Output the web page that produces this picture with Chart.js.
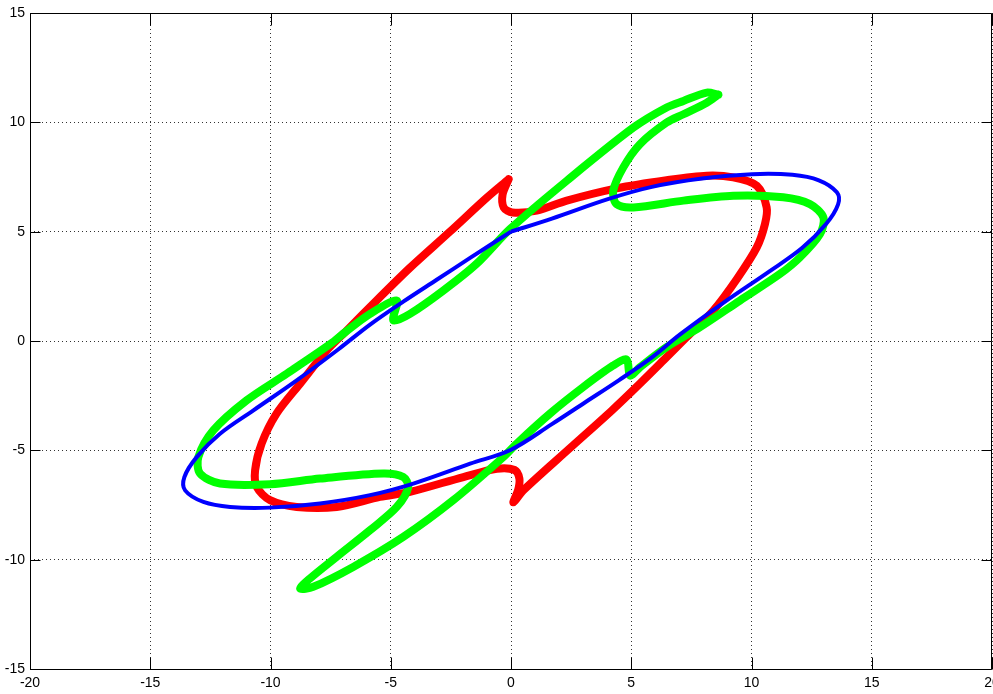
<!DOCTYPE html>
<html>
<head>
<meta charset="utf-8">
<script src="https://cdn.jsdelivr.net/npm/chart.js@4.4.1/dist/chart.umd.min.js"></script>
<style>
html,body{margin:0;padding:0;background:#fff;}
#wrap{width:993px;height:694px;position:relative;}
</style>
</head>
<body>
<div id="wrap"><canvas id="c" width="993" height="694"></canvas></div>
<script>
// Tick labels
const xTickValues = [-20, -15, -10, -5, 0, 5, 10, 15, 20];
const yTickValues = [-15, -10, -5, 0, 5, 10, 15];

// Blue curve
const blueX = [0.0, 1.7, 4.06, 5.86, 7.94, 10.02, 11.7, 12.8, 13.55, 13.6, 13.1, 12.1, 10.7, 8.9, 7.03, 5.86, 4.48, 3.09, 1.7, 0.0, -1.7, -4.06, -5.86, -7.94, -10.02, -11.68, -12.79, -13.55, -13.58, -13.07, -12.1, -10.71, -8.91, -7.2, -5.86, -4.48, -3.09, -1.70, 0.0];
const blueY = [5.0, 5.6, 6.5, 7.05, 7.43, 7.63, 7.6, 7.35, 6.8, 6.25, 5.35, 4.25, 3.15, 1.8, 0.3, -0.75, -1.8, -2.8, -3.8, -4.97, -5.61, -6.52, -7.05, -7.43, -7.62, -7.59, -7.36, -6.83, -6.22, -5.31, -4.24, -3.17, -1.80, -0.4, 0.75, 1.8, 2.8, 3.8, 5.0];

// Red curve
const redX = [-0.1, -0.35, -0.3, 0.05, 1.07, 2.32, 4.39, 6.47, 8.14, 9.24, 10.22, 10.63, 10.56, 10.22, 9.4, 8.41, 7.3, 6.47, 5.36, 4.2, 2.45, 0.51, 0.1, 0.3, 0.35, 0.15, -0.59, -1.98, -4.2, -5.45, -7.25, -8.91, -10.02, -10.57, -10.64, -10.37, -9.75, -8.77, -7.66, -6.83, -5.5, -4.2, -2.54, -1.01, -0.1];
const redY = [7.4, 6.7, 6.1, 5.88, 5.96, 6.42, 6.98, 7.35, 7.56, 7.48, 7.1, 6.11, 5.35, 4.28, 2.85, 1.39, 0.17, -0.74, -1.95, -3.17, -4.9, -6.83, -7.38, -6.8, -6.3, -5.9, -5.84, -6.22, -6.9, -7.13, -7.59, -7.59, -7.28, -6.68, -5.91, -4.69, -3.32, -1.95, -0.43, 0.48, 1.95, 3.35, 5.0, 6.55, 7.4];

// Green curve
const greenX = [8.62, 8.14, 7.17, 6.47, 5.36, 4.67, 4.25, 4.39, 5.09, 7.17, 9.24, 11.32, 12.43, 12.99, 12.85, 12.02, 11.19, 9.52, 7.86, 6.47, 5.36, 4.95, 4.81, 4.25, 3.0, 1.62, 0.24, -0.32, -2.4, -4.48, -6.56, -8.22, -8.77, -8.36, -7.25, -5.86, -4.75, -4.27, -4.48, -5.31, -7.94, -10.02, -12.1, -12.93, -13.0, -12.38, -11.0, -9.33, -7.5, -6.9, -5.86, -4.75, -4.89, -4.2, -2.81, -1.43, -0.04, 2.32, 5.09, 6.47, 7.17, 8.14, 8.62];
const greenY = [11.26, 10.9, 10.37, 9.99, 9.0, 7.94, 6.87, 6.26, 6.11, 6.42, 6.64, 6.57, 6.26, 5.65, 4.89, 3.83, 3.07, 1.85, 0.63, -0.28, -1.2, -1.58, -0.85, -1.12, -2.11, -3.32, -4.69, -5.31, -7.28, -8.96, -10.33, -11.24, -11.32, -10.86, -9.87, -8.65, -7.59, -6.68, -6.22, -6.06, -6.29, -6.55, -6.52, -6.06, -5.31, -4.09, -2.72, -1.5, -0.13, 0.4, 1.24, 1.85, 0.94, 1.24, 2.31, 3.53, 5.12, 7.33, 9.76, 10.68, 10.98, 11.36, 11.26];

function pts(xs, ys) { return xs.map((x, i) => ({x: x, y: ys[i]})); }

const FONT = {family: 'Liberation Sans, Arial, sans-serif', size: 14};

const framePlugin = {
  id: 'frame',
  afterDraw(chart) {
    const ctx = chart.ctx;
    const a = chart.chartArea;
    const xs = chart.scales.x, ys = chart.scales.y;
    ctx.save();
    ctx.strokeStyle = '#000';
    ctx.lineWidth = 1;
    ctx.setLineDash([]);
    ctx.beginPath();
    const L = Math.round(a.left) + 0.5, R = Math.round(a.right) - 0.5;
    const T = Math.round(a.top) + 0.5, B = Math.round(a.bottom) + 0.5;
    ctx.rect(L, T, R - L, B - T);
    xTickValues.forEach(v => {
      const px = Math.round(xs.getPixelForValue(v)) + 0.5;
      ctx.moveTo(px, B); ctx.lineTo(px, B - 12);
      ctx.moveTo(px, T); ctx.lineTo(px, T + 12);
    });
    yTickValues.forEach(v => {
      const py = Math.round(ys.getPixelForValue(v)) + 0.5;
      ctx.moveTo(L, py); ctx.lineTo(L + 10, py);
      ctx.moveTo(R, py); ctx.lineTo(R - 10, py);
    });
    ctx.stroke();
    ctx.restore();
  }
};

new Chart(document.getElementById('c'), {
  type: 'scatter',
  data: {
    datasets: [
      {label: 'blue', data: pts(blueX, blueY), borderColor: '#0000ff', borderWidth: 4, showLine: true, pointRadius: 0, tension: 0.35, fill: false, order: 1},
      {label: 'green', data: pts(greenX, greenY), borderColor: '#00ff00', borderWidth: 8, showLine: true, pointRadius: 0, tension: 0.3, fill: false, order: 2, borderJoinStyle: 'round', borderCapStyle: 'round'},
      {label: 'red', data: pts(redX, redY), borderColor: '#ff0000', borderWidth: 8, showLine: true, pointRadius: 0, tension: 0.3, fill: false, order: 3, borderJoinStyle: 'round', borderCapStyle: 'round'}
    ]
  },
  options: {
    responsive: false,
    animation: false,
    devicePixelRatio: 1,
    layout: {padding: {left: 0, top: 13, right: 1, bottom: 0}},
    plugins: {legend: {display: false}, tooltip: {enabled: false}},
    scales: {
      x: {
        type: 'linear', min: -20, max: 20,
        afterBuildTicks: s => { s.ticks = xTickValues.map(v => ({value: v})); },
        ticks: {font: FONT, color: '#000', padding: 6, maxRotation: 0, autoSkip: false},
        grid: {color: '#333', lineWidth: 1, drawTicks: false},
        border: {display: false, dash: [1, 3]},
        afterFit: s => { s.height = 25; s.paddingLeft = 0; s.paddingRight = 0; }
      },
      y: {
        type: 'linear', min: -15, max: 15,
        afterBuildTicks: s => { s.ticks = yTickValues.map(v => ({value: v})); },
        ticks: {font: FONT, color: '#000', padding: 5, autoSkip: false},
        grid: {color: '#333', lineWidth: 1, drawTicks: false},
        border: {display: false, dash: [1, 3]},
        afterFit: s => { s.width = 30; s.paddingTop = 0; s.paddingBottom = 0; }
      }
    }
  },
  plugins: [framePlugin]
});
</script>
</body>
</html>
